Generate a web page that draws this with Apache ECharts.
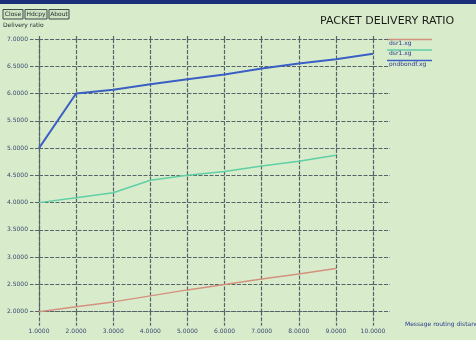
<!DOCTYPE html>
<html><head><meta charset="utf-8">
<script src="https://cdn.jsdelivr.net/npm/echarts@6/dist/echarts.min.js"></script>
<style>html,body{margin:0;padding:0;background:#d8eccb;}#c{width:476px;height:340px;}</style>
</head><body><div id="c"></div>
<script>
const xValues = [1, 2, 3, 4, 5, 6, 7, 8, 9, 10];
const seriesNames = ['dsr1.xg', 'dsr1.xg', 'ondbondf.xg'];
const redValues = [2.00, 2.09, 2.18, 2.29, 2.40, 2.50, 2.60, 2.69, 2.79];
const greenValues = [4.00, 4.09, 4.18, 4.41, 4.50, 4.57, 4.67, 4.76, 4.87];
const blueValues = [5.00, 6.00, 6.07, 6.17, 6.26, 6.35, 6.46, 6.55, 6.63, 6.73];
const titleText = 'PACKET DELIVERY RATIO';
const yLabel = 'Delivery ratio';
const xLabel = 'Message routing distance';
const buttons = ['Close', 'Hdcpy', 'About'];

const colors = ['#d4917f', '#5fcfa6', '#3b5fc4'];
const gridColor = '#56646a';
const pair = (vals) => vals.map((v, i) => [xValues[i], v]);

const chart = echarts.init(document.getElementById('c'));
const lineStyleGrid = { color: gridColor, width: 1.2, type: [4, 1.5] };
const fontF = '"DejaVu Sans", sans-serif';

const legendGraphics = [];
seriesNames.forEach((n, i) => {
  const y0 = 39.5 + i * 10.5;
  legendGraphics.push({ type: 'line', shape: { x1: 387, y1: y0, x2: 432, y2: y0 },
    style: { stroke: colors[i], lineWidth: 1.5 } });
  legendGraphics.push({ type: 'text', left: 389, top: y0 + 0.5,
    style: { text: n, fill: '#2a3a8a', font: '6px ' + fontF } });
});

const btnGraphics = [];
const btnX = [3, 25, 49];
const btnW = [20, 22, 20];
buttons.forEach((b, i) => {
  btnGraphics.push({ type: 'rect', shape: { x: btnX[i], y: 9.5, width: btnW[i], height: 9.5 },
    style: { fill: '#d0e4c4', stroke: '#3a4a4a', lineWidth: 1 } });
  btnGraphics.push({ type: 'text', x: btnX[i] + btnW[i] / 2, y: 14.5,
    style: { text: b, fill: '#1a2a2a', font: '6px ' + fontF, align: 'center', verticalAlign: 'middle' } });
});

chart.setOption({
  backgroundColor: '#d8eccb',
  animation: false,
  title: { text: titleText, left: 315, top: 11,
    textStyle: { fontSize: 11, fontWeight: 'normal', color: '#1a1a1a', fontFamily: fontF } },
  grid: { left: 39, right: 103, top: 39, bottom: 28.3, containLabel: false, outerBoundsMode: 'none' },
  xAxis: [{
    type: 'value', min: 1, max: 10, interval: 1, position: 'bottom',
    axisLine: { show: true, lineStyle: lineStyleGrid },
    axisTick: { show: true, length: 14, lineStyle: lineStyleGrid },
    splitLine: { show: true, lineStyle: lineStyleGrid },
    axisLabel: { margin: 17, fontSize: 6, color: '#3a4a70', fontFamily: fontF,
      formatter: v => v.toFixed(4) }
  }, {
    type: 'value', min: 1, max: 10, interval: 1, position: 'top',
    axisLine: { show: false },
    axisTick: { show: true, length: 3, lineStyle: lineStyleGrid },
    splitLine: { show: false }, axisLabel: { show: false }
  }],
  yAxis: [{
    type: 'value', min: 2, max: 7, interval: 0.5, position: 'left',
    axisLine: { show: true, lineStyle: lineStyleGrid },
    axisTick: { show: true, length: 9, lineStyle: lineStyleGrid },
    splitLine: { show: true, lineStyle: lineStyleGrid },
    axisLabel: { margin: 11, fontSize: 6, color: '#3a4a70', fontFamily: fontF,
      formatter: v => v.toFixed(4) }
  }, {
    type: 'value', min: 2, max: 7, interval: 0.5, position: 'right',
    axisLine: { show: false },
    axisTick: { show: true, length: 17, lineStyle: lineStyleGrid },
    splitLine: { show: false }, axisLabel: { show: false }
  }],
  series: [
    { name: seriesNames[0], type: 'line', data: pair(redValues), symbol: 'none',
      lineStyle: { color: colors[0], width: 1.5 } },
    { name: seriesNames[1], type: 'line', data: pair(greenValues), symbol: 'none',
      lineStyle: { color: colors[1], width: 1.5 } },
    { name: seriesNames[2], type: 'line', data: pair(blueValues), symbol: 'none',
      lineStyle: { color: colors[2], width: 2 } }
  ],
  graphic: [
    { type: 'rect', shape: { x: 0, y: 0, width: 476, height: 4 }, style: { fill: '#1c2f7a' } },
    { type: 'text', left: 3, top: 22,
      style: { text: yLabel, fill: '#1a2a2a', font: '6px ' + fontF } },
    { type: 'text', left: 405, top: 321,
      style: { text: xLabel, fill: '#2a3a8a', font: '6px ' + fontF } }
  ].concat(btnGraphics, legendGraphics)
});
</script></body></html>
